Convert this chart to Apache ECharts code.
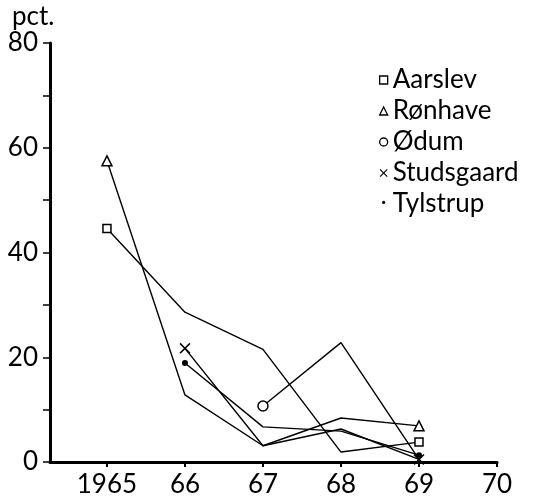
<!DOCTYPE html>
<html style="height: 100%">
<head>
<meta charset="utf-8">
<script src="https://cdn.jsdelivr.net/npm/echarts@6/dist/echarts.min.js"></script>
</head>
<body style="height: 100%; margin: 0; background: #fff">
<div id="container" style="width: 536px; height: 498px"></div>
<script type="text/javascript">
// years on the x axis, pct. values per station (null = not measured)
var years = [1965, 1966, 1967, 1968, 1969];
var xTicks = [1965, 1966, 1967, 1968, 1969, 1970];
var aarslev    = [44.6, 28.6, 21.5, 1.9, 3.8];
var ronhave    = [57.5, 12.8, 3.1, 8.4, 6.9];
var odum       = [null, null, 10.7, 22.8, 0.5];
var studsgaard = [null, 21.7, 3.1, 6.3, 0.5];
var tylstrup   = [null, 18.9, 6.7, 5.9, 1.3];

var CROSS = 'path://M0,1 L1,0 L5,4 L9,0 L10,1 L6,5 L10,9 L9,10 L5,6 L1,10 L0,9 L4,5 Z';
var FONT = 'Lato';

// only the first (and usually the last) point of each curve carries a marker
function pairs(vals, markLast) {
    var out = [];
    for (var i = 0; i < years.length; i++) {
        if (vals[i] !== null) out.push({value: [years[i], vals[i]]});
    }
    for (var j = 1; j < out.length; j++) {
        if (j === out.length - 1 && markLast) continue;
        out[j].symbol = 'none';
    }
    return out;
}

function line(name, vals, symbol, size, hollow, markLast) {
    return {
        name: name,
        type: 'line',
        data: pairs(vals, markLast),
        symbol: symbol,
        symbolSize: size,
        showAllSymbol: true,
        lineStyle: {color: '#000', width: 1.4},
        itemStyle: hollow
            ? {color: '#fff', borderColor: '#000', borderWidth: 1.5}
            : {color: '#000', borderWidth: 0},
        emphasis: {disabled: true},
        z: 3
    };
}

var dom = document.getElementById('container');
var myChart = echarts.init(dom);

var option = {
    animation: false,
    backgroundColor: '#fff',
    grid: {left: 50, top: 43, right: 39, bottom: 35},
    legend: {
        orient: 'vertical',
        left: 374,
        top: 62,
        itemWidth: 8,
        itemHeight: 8,
        itemGap: 5,
        textStyle: {fontFamily: FONT, fontSize: 26, color: '#000', lineHeight: 26},
        data: [
            {name: 'Aarslev', icon: 'rect', itemStyle: {color: '#fff', borderColor: '#000', borderWidth: 1.3}},
            {name: 'Rønhave', icon: 'triangle', itemStyle: {color: '#fff', borderColor: '#000', borderWidth: 1.3}},
            {name: 'Ødum', icon: 'circle', itemStyle: {color: '#fff', borderColor: '#000', borderWidth: 1.3}},
            {name: 'Studsgaard', icon: CROSS, itemStyle: {color: '#000', borderWidth: 0}},
            {name: 'Tylstrup', icon: 'path://M3,3 a2,2 0 1,0 4,0 a2,2 0 1,0 -4,0 Z M0,0 L0,0 M10,10 L10,10', itemStyle: {color: '#000', borderWidth: 0}}
        ]
    },
    xAxis: {
        type: 'value',
        min: 1964.27,
        max: 1970,
        splitLine: {show: false},
        axisLine: {lineStyle: {color: '#000', width: 3}},
        axisTick: {customValues: xTicks, length: 5, lineStyle: {color: '#000', width: 2}},
        axisLabel: {
            customValues: xTicks,
            margin: 10,
            fontFamily: FONT,
            fontSize: 26,
            color: '#000',
            formatter: function (v) { return v === 1965 ? '1965' : String(v).slice(2); }
        }
    },
    yAxis: {
        type: 'value',
        min: 0,
        max: 80,
        interval: 10,
        name: 'pct.',
        nameGap: 10,
        nameTextStyle: {fontFamily: FONT, fontSize: 26, color: '#000', align: 'left', padding: [0, 0, 0, -38]},
        splitLine: {show: false},
        axisLine: {show: true, lineStyle: {color: '#000', width: 3}},
        axisTick: {show: true, length: 7, lineStyle: {color: '#000', width: 1.5}},
        axisLabel: {
            margin: 12,
            fontFamily: FONT,
            fontSize: 26,
            color: '#000',
            formatter: function (v) { return v % 20 === 0 ? String(v) : ''; }
        }
    },
    series: [
        line('Aarslev', aarslev, 'rect', 8, true, true),
        line('Rønhave', ronhave, 'triangle', 10, true, true),
        line('Ødum', odum, 'circle', 10, true, false),
        line('Studsgaard', studsgaard, CROSS, 11, false, true),
        line('Tylstrup', tylstrup, 'circle', 6, false, true)
    ]
};

myChart.setOption(option);
</script>
</body>
</html>
